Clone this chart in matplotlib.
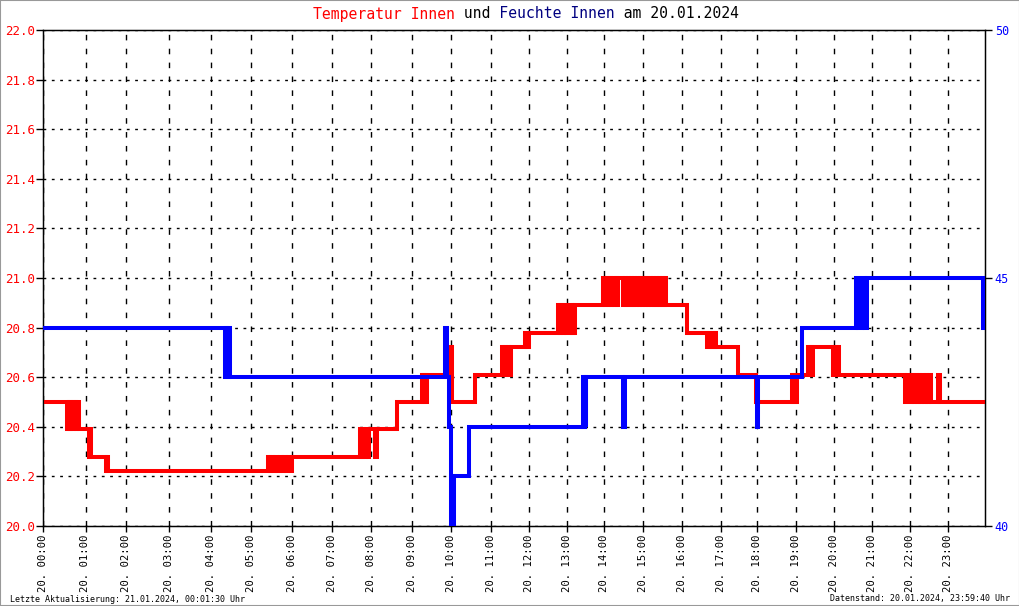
import numpy as np
import matplotlib
matplotlib.use("Agg")
import matplotlib.pyplot as plt
from matplotlib.patches import Rectangle

# ---------------- data ----------------
hours = list(range(25))
tick_labels = [f"20. {h:02d}:00" for h in range(24)]

temp_t = [0.00, 0.56, 0.60, 0.63, 0.67, 0.70, 0.74, 0.78, 0.81, 0.84,
          1.08, 1.11, 1.14, 1.50, 1.53, 1.56,
          5.41, 5.45, 5.49, 5.53, 5.58, 5.63, 5.69, 5.74, 5.79, 5.84, 5.90, 5.95, 5.99,
          7.73, 7.76, 7.80, 7.84, 7.88, 7.92, 7.96, 8.11, 8.15, 8.64,
          9.26, 9.29, 9.32, 9.35, 9.38, 9.89, 9.92, 9.95, 10.01, 10.60,
          11.29, 11.33, 11.37, 11.41, 11.45, 11.49, 11.53, 11.90, 11.95, 12.00,
          12.77, 12.81, 12.85, 12.89, 12.93, 12.98, 13.09, 13.13, 13.17, 13.20, 13.22,
          13.97, 14.01, 14.05, 14.09, 14.13, 14.17, 14.21, 14.25, 14.29, 14.33, 14.35,
          14.48, 14.52, 14.56, 14.60, 14.64, 14.68, 14.72, 14.76, 14.80, 14.84,
          14.88, 14.92, 14.96, 15.00, 15.04, 15.08, 15.12, 15.16, 15.20, 15.24,
          15.28, 15.32, 15.36, 15.40, 15.44, 15.48, 15.52, 15.56, 15.60,
          16.14, 16.65, 16.69, 16.73, 16.77, 16.81, 16.85, 16.89,
          17.47, 17.96, 18.90, 18.93, 18.97, 19.00, 19.03,
          19.32, 19.35, 19.39, 19.42, 19.45, 19.98, 20.02, 20.06, 20.10, 20.14,
          21.88, 21.92, 22.03, 22.07, 22.11, 22.15, 22.19, 22.24, 22.28, 22.33, 22.37,
          22.42, 22.46, 22.50, 22.55, 22.74, 22.79, 24.00]
temp_v = [20.50, 20.39, 20.50, 20.39, 20.50, 20.39, 20.50, 20.39, 20.50, 20.39,
          20.28, 20.39, 20.28, 20.22, 20.28, 20.22,
          20.28, 20.22, 20.28, 20.22, 20.28, 20.22, 20.28, 20.22, 20.28, 20.22, 20.28, 20.22, 20.28,
          20.39, 20.28, 20.39, 20.28, 20.39, 20.28, 20.39, 20.28, 20.39, 20.50,
          20.61, 20.50, 20.61, 20.50, 20.61, 20.72, 20.61, 20.72, 20.50, 20.61,
          20.72, 20.61, 20.72, 20.61, 20.72, 20.61, 20.72, 20.78, 20.72, 20.78,
          20.89, 20.78, 20.89, 20.78, 20.89, 20.78, 20.89, 20.78, 20.89, 20.78, 20.89,
          21.00, 20.89, 21.00, 20.89, 21.00, 20.89, 21.00, 20.89, 21.00, 20.89, 21.00,
          20.89, 21.00, 20.89, 21.00, 20.89, 21.00, 20.89, 21.00, 20.89, 21.00,
          20.89, 21.00, 20.89, 21.00, 20.89, 21.00, 20.89, 21.00, 20.89, 21.00,
          20.89, 21.00, 20.89, 21.00, 20.89, 21.00, 20.89, 21.00, 20.89,
          20.78, 20.72, 20.78, 20.72, 20.78, 20.72, 20.78, 20.72,
          20.61, 20.50, 20.61, 20.50, 20.61, 20.50, 20.61,
          20.72, 20.61, 20.72, 20.61, 20.72, 20.61, 20.72, 20.61, 20.72, 20.61,
          20.50, 20.61, 20.50, 20.61, 20.50, 20.61, 20.50, 20.61, 20.50, 20.61, 20.50,
          20.61, 20.50, 20.61, 20.50, 20.61, 20.50, 20.50]

hum_t = [0.00, 4.34, 4.37, 4.40, 4.43, 4.47,
         9.84, 9.89, 9.94, 9.99, 10.02, 10.04, 10.07,
         10.45,
         13.44, 13.46, 13.48, 13.50, 13.51,
         14.48, 14.52,
         17.99, 18.03,
         19.17,
         20.59, 20.64, 20.74, 20.82, 20.87,
         23.95, 24.00]
hum_v = [44, 43, 44, 43, 44, 43,
         44, 43, 42, 40, 41, 40, 41,
         42,
         43, 42, 43, 42, 43,
         42, 43,
         42, 43,
         44,
         45, 44, 45, 44, 45,
         44, 44]

# ---------------- layout ----------------
# relative horizontal placement of the hour ticks in the reference axis
hour_frac = np.array([0, 42.5, 83.5, 126.3, 168.3, 208.3, 249.2, 288.7, 327.7,
                      368.7, 408.5, 447.7, 486, 523.7, 561.3, 600.3, 638.7,
                      677.7, 714.3, 752.7, 790.7, 828.7, 866.7, 904.7, 942]) / 942 * 24
hours_arr = np.array(hours, dtype=float)

def fwd(x):
    return np.interp(x, hours_arr, hour_frac)

def inv(y):
    return np.interp(y, hour_frac, hours_arr)

MONO = "DejaVu Sans Mono"
plt.rcParams["font.family"] = [MONO]

W, H = 1020, 606
fig = plt.figure(figsize=(W / 100, H / 100), dpi=100)
ax = fig.add_axes([43 / W, 1 - 526 / H, (985 - 43) / W, (526 - 30) / H])
ax.set_xscale("function", functions=(fwd, inv))

ax.step(temp_t, temp_v, where="post", color="#ff0000", lw=2.9,
        solid_joinstyle="miter", zorder=3)
ax.set_xlim(0, 24)
ax.set_ylim(20.0, 22.0)
ax.set_xticks(hours[:24])
ax.set_xticklabels(tick_labels, rotation=90, fontsize=7.7, family=MONO)
yt = np.round(np.arange(20.0, 22.01, 0.2), 1)
ax.set_yticks(yt)
ax.set_yticklabels([f"{v:.1f}" for v in yt], color="#ff0000", fontsize=9, family=MONO)
ax.tick_params(axis="x", length=4, width=1, pad=2)
ax.tick_params(axis="y", length=5, width=1, pad=1)
ax.xaxis.grid(True, color="black", lw=1, linestyle=(0, (4, 6)))
ax.yaxis.grid(True, color="black", lw=1, linestyle=(0, (2, 4)))
ax.set_axisbelow(True)
for s in ax.spines.values():
    s.set_color("black")
    s.set_linewidth(1)

ax2 = ax.twinx()
ax2.step(hum_t, hum_v, where="post", color="#0000ff", lw=2.9,
         solid_joinstyle="miter", zorder=4)
ax2.set_ylim(40, 50)
ax2.set_yticks([40, 45, 50])
ax2.set_yticklabels(["40", "45", "50"], color="#0000ff", fontsize=8.5, family=MONO)
ax2.tick_params(axis="y", length=5, width=1, pad=2)

# title in several colours (monospace strings of equal length)
part_red = "Temperatur Innen"
part_und = " und "
part_blue = "Feuchte Innen"
part_am = " am 20.01.2024"
full = part_red + part_und + part_blue + part_am
n = len(full)
s_red = part_red.ljust(n)
s_black = (" " * len(part_red) + part_und + " " * len(part_blue) + part_am)
s_blue = (" " * len(part_red + part_und) + part_blue).ljust(n)
ty = 1 - 14 / H
tx = 526 / W
for s, c in [(s_red, "#ff0000"), (s_black, "black"), (s_blue, "#000080")]:
    fig.text(tx, ty, s, color=c, fontsize=10.6, family=MONO, ha="center",
             va="center")

fig.text(10 / W, 1 - 599 / H, "Letzte Aktualisierung: 21.01.2024, 00:01:30 Uhr",
         fontsize=6, family=MONO, ha="left", va="center")
fig.text(1010 / W, 1 - 599 / H, "Datenstand: 20.01.2024, 23:59:40 Uhr",
         fontsize=6, family=MONO, ha="right", va="center")

fig.patches.append(Rectangle((0, 0), 1, 1, transform=fig.transFigure, fill=False,
                             edgecolor="#999999", lw=1.5))

fig.savefig("out.png", dpi=100)
